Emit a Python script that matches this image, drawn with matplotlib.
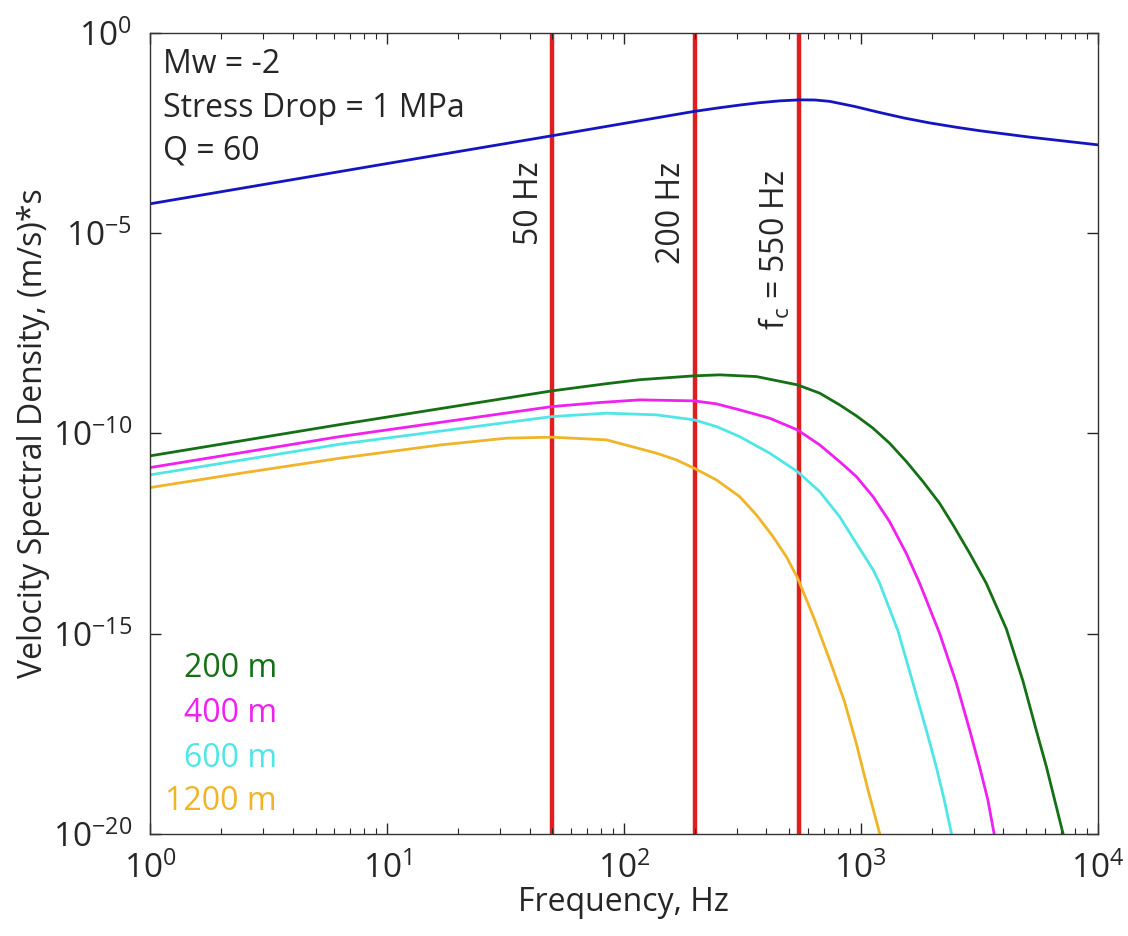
import matplotlib
matplotlib.use("Agg")
import matplotlib.pyplot as plt
from matplotlib.ticker import LogLocator, NullLocator
import numpy as np

plt.rcParams['font.family'] = ['Open Sans', 'DejaVu Sans']
plt.rcParams['mathtext.fontset'] = 'custom'
plt.rcParams['mathtext.rm'] = 'Open Sans'
plt.rcParams['mathtext.it'] = 'Open Sans'

# values: log10(frequency, Hz) and log10(spectral density)
blue_lf = [0.000, 0.970, 1.696, 2.295, 2.400, 2.489, 2.574, 2.658, 2.743, 2.806,
           2.869, 2.975, 3.080, 3.185, 3.291, 3.400, 3.502, 3.713, 4.000]
blue_ly = [-4.270, -3.296, -2.572, -1.965, -1.875, -1.805, -1.745, -1.700, -1.675, -1.678,
           -1.712, -1.840, -1.990, -2.130, -2.250, -2.355, -2.445, -2.605, -2.797]

green_lf = [0.000, 0.802, 1.697, 1.927, 2.068, 2.297, 2.405, 2.560, 2.733, 2.827, 2.911,
            2.982, 3.052, 3.122, 3.193, 3.263, 3.333, 3.390, 3.460, 3.530, 3.615,
            3.685, 3.741, 3.784, 3.826, 3.854, 3.872]
green_ly = [-10.562, -9.780, -8.939, -8.760, -8.660, -8.564, -8.539, -8.582, -8.789, -8.996, -9.288,
            -9.563, -9.870, -10.245, -10.704, -11.203, -11.743, -12.285, -12.990, -13.740, -14.880,
            -16.180, -17.403, -18.320, -19.318, -19.983, -20.450]

magenta_lf = [0.000, 0.802, 1.697, 1.899, 2.068, 2.297, 2.391, 2.489, 2.616, 2.733,
              2.827, 2.911, 2.982, 3.052, 3.122, 3.193, 3.249, 3.333, 3.404, 3.460,
              3.502, 3.537, 3.563, 3.585]
magenta_ly = [-10.854, -10.080, -9.331, -9.230, -9.164, -9.189, -9.263, -9.413, -9.621, -9.913,
              -10.287, -10.704, -11.079, -11.578, -12.202, -13.000, -13.740, -14.988, -16.237, -17.403,
              -18.320, -19.150, -19.983, -20.550]

cyan_lf = [0.000, 0.802, 1.697, 1.927, 2.138, 2.297, 2.391, 2.489, 2.616, 2.733,
           2.827, 2.911, 2.961, 3.052, 3.080, 3.157, 3.221, 3.277, 3.319, 3.354,
           3.383, 3.401]
cyan_ly = [-11.036, -10.270, -9.581, -9.496, -9.538, -9.663, -9.830, -10.080, -10.495, -10.954,
           -11.453, -12.077, -12.550, -13.400, -13.740, -14.920, -16.237, -17.403, -18.320, -19.180,
           -19.983, -20.500]

orange_lf = [0.000, 0.400, 0.802, 1.224, 1.505, 1.697, 1.927, 2.138, 2.222, 2.297,
             2.391, 2.489, 2.560, 2.630, 2.686, 2.733, 2.806, 2.869, 2.932, 2.982,
             3.031, 3.080, 3.093]
orange_ly = [-11.353, -10.980, -10.620, -10.290, -10.120, -10.095, -10.162, -10.494, -10.662, -10.869,
             -11.161, -11.578, -12.035, -12.577, -13.076, -13.600, -14.657, -15.655, -16.700, -17.750,
             -18.900, -19.983, -20.350]

line_freqs = [50, 200, 550]
line_labels = ['50 Hz', '200 Hz', r'$\mathregular{f_c}$ = 550 Hz']
label_tops = [10 ** -3.2, 10 ** -3.22, 10 ** -3.42]
distances = ['200 m', '400 m', '600 m', '1200 m']
info = ['Mw = -2', 'Stress Drop = 1 MPa', 'Q = 60']

c_blue = '#1414c0'
c_green = '#157015'
c_magenta = '#f020f0'
c_cyan = '#50e6e6'
c_orange = '#f0b428'
c_red = '#e01e1e'
c_text = '#262626'

fig = plt.figure(figsize=(11.28, 9.36), dpi=100)
ax = fig.add_axes([0.133, 0.109, 0.840, 0.856])

lw = 2.0
ax.plot(np.power(10.0, blue_lf), np.power(10.0, blue_ly), color=c_blue, lw=lw)
ax.plot(np.power(10.0, green_lf), np.power(10.0, green_ly), color=c_green, lw=lw)
ax.plot(np.power(10.0, magenta_lf), np.power(10.0, magenta_ly), color=c_magenta, lw=lw)
ax.plot(np.power(10.0, cyan_lf), np.power(10.0, cyan_ly), color=c_cyan, lw=lw)
ax.plot(np.power(10.0, orange_lf), np.power(10.0, orange_ly), color=c_orange, lw=lw)

for f, lab, yt in zip(line_freqs, line_labels, label_tops):
    ax.axvline(f, color=c_red, lw=3.2, zorder=1)
    ax.text(f * 0.935, yt, lab, rotation=90, ha='right', va='top',
            fontsize=23, color=c_text)

ax.set_xscale('log')
ax.set_yscale('log')
ax.set_xlim(1, 1e4)
ax.set_ylim(1e-20, 1)
ax.set_yticks([1e-20, 1e-15, 1e-10, 1e-5, 1])
ax.yaxis.set_minor_locator(NullLocator())
ax.xaxis.set_major_locator(LogLocator(base=10, numticks=10))
ax.xaxis.set_minor_locator(LogLocator(base=10, subs=np.arange(2, 10), numticks=20))

ax.tick_params(which='both', direction='in', top=True, right=True,
               labelsize=24, colors=c_text)
ax.tick_params(axis='y', pad=13)
ax.tick_params(axis='x', pad=13)
ax.tick_params(which='major', length=8, width=1)
ax.tick_params(which='minor', length=4, width=0.8)
for s in ax.spines.values():
    s.set_color('#333333')
    s.set_linewidth(1.0)

ax.set_xlabel('Frequency, Hz', fontsize=23, color=c_text, labelpad=0)
ax.set_ylabel('Velocity Spectral Density, (m/s)*s', fontsize=23, color=c_text, labelpad=2)

info_base = [0.9497, 0.895, 0.8415]
for t, yb in zip(info, info_base):
    ax.text(0.014, yb, t, transform=ax.transAxes, ha='left', va='baseline',
            fontsize=23, color=c_text)

dist_base = [0.196, 0.1398, 0.0836, 0.0300]
for t, c, yb in zip(distances, [c_green, c_magenta, c_cyan, c_orange], dist_base):
    ax.text(0.134, yb, t, transform=ax.transAxes, ha='right', va='baseline',
            fontsize=23, color=c)

fig.savefig('out.png', dpi=100)
